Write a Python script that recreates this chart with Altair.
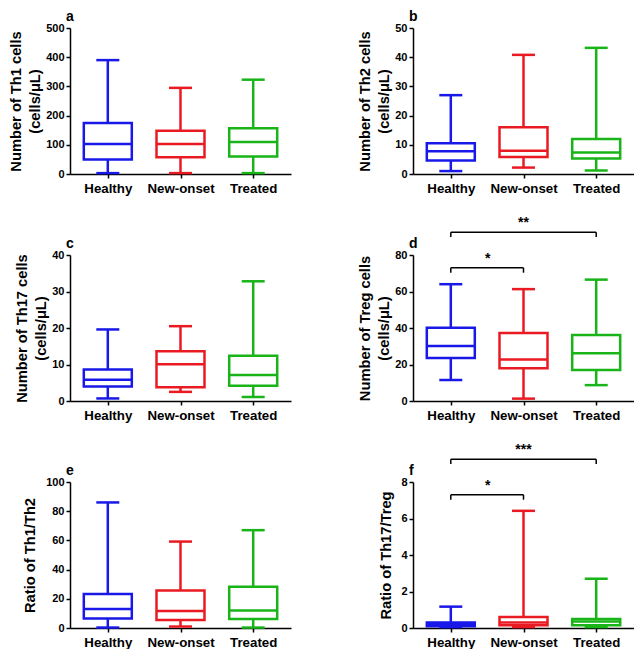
import altair as alt
import pandas as pd

groups = ["Healthy", "New-onset", "Treated"]
colors = ["#1818e8", "#ea1a22", "#18b418"]

# panel a: Th1 cells
a_min = [3, 3, 3]
a_q1 = [50, 57, 60]
a_med = [103, 103, 110]
a_q3 = [175, 148, 157]
a_max = [390, 295, 323]

# panel b: Th2 cells
b_min = [1.0, 2.2, 1.2]
b_q1 = [4.6, 5.8, 5.3]
b_med = [7.8, 8.0, 7.4]
b_q3 = [10.5, 16.0, 12.0]
b_max = [27.0, 40.8, 43.2]

# panel c: Th17 cells
c_min = [0.7, 2.5, 1.1]
c_q1 = [4.0, 3.8, 4.2]
c_med = [5.8, 10.1, 7.1]
c_q3 = [8.6, 13.6, 12.4]
c_max = [19.6, 20.5, 32.8]

# panel d: Treg cells
d_min = [11.5, 1.3, 8.7]
d_q1 = [23.5, 18.0, 17.0]
d_med = [30.2, 22.7, 26.2]
d_q3 = [40.2, 37.3, 36.2]
d_max = [64.0, 61.3, 66.5]

# panel e: Th1/Th2 ratio
e_min = [0.3, 1.0, 0.3]
e_q1 = [6.5, 5.5, 6.2]
e_med = [13.0, 11.7, 12.0]
e_q3 = [23.3, 25.7, 28.3]
e_max = [86.0, 59.2, 67.0]

# panel f: Th17/Treg ratio
f_min = [0.05, 0.05, 0.05]
f_q1 = [0.10, 0.15, 0.15]
f_med = [0.20, 0.30, 0.35]
f_q3 = [0.30, 0.60, 0.50]
f_max = [1.17, 6.42, 2.70]

# significance brackets: (from, to, level, tip, label)
d_brackets = [("Healthy", "New-onset", 73.0, 70.3, "*"), ("Healthy", "Treated", 92.5, 89.8, "**")]
f_brackets = [("Healthy", "New-onset", 7.3, 7.03, "*"), ("Healthy", "Treated", 9.25, 8.98, "***")]

FONT = "Liberation Sans"
W, H = 221, 146
LW = 2.5


def panel(letter, ytitle, ymax, step, mins, q1s, meds, q3s, maxs, brackets=None, tpad=3):
    df = pd.DataFrame({"group": groups, "min": mins, "q1": q1s, "med": meds, "q3": q3s, "max": maxs})
    yscale = alt.Scale(domain=[0, ymax], nice=False, zero=True)
    yaxis = alt.Axis(values=list(range(0, ymax + 1, step)), titlePadding=tpad)
    xscale = alt.Scale(type="point", padding=0.52)
    xaxis = alt.Axis(labelAngle=0)
    cscale = alt.Scale(domain=groups, range=colors)

    def X(f):
        return alt.X(f"{f}:N", sort=groups, scale=xscale, axis=xaxis, title=None)

    def Y(f):
        return alt.Y(f"{f}:Q", scale=yscale, axis=yaxis, title=ytitle)

    col = alt.Color("group:N", scale=cscale, legend=None)
    base = alt.Chart(df)
    w_lo = base.mark_rule(strokeWidth=LW).encode(x=X("group"), y=Y("min"), y2="q1:Q", color=col)
    w_hi = base.mark_rule(strokeWidth=LW).encode(x=X("group"), y=Y("q3"), y2="max:Q", color=col)
    cap_lo = base.mark_tick(size=23, thickness=LW, opacity=1).encode(x=X("group"), y=Y("min"), color=col)
    cap_hi = base.mark_tick(size=23, thickness=LW, opacity=1).encode(x=X("group"), y=Y("max"), color=col)
    box = base.mark_bar(size=48, fill="white", strokeWidth=LW, opacity=1).encode(
        x=X("group"), y=Y("q1"), y2="q3:Q",
        stroke=alt.Stroke("group:N", scale=cscale, legend=None))
    med = base.mark_tick(size=48, thickness=LW, opacity=1).encode(x=X("group"), y=Y("med"), color=col)
    lab = alt.Chart(pd.DataFrame({"t": [letter]})).mark_text(
        align="left", baseline="alphabetic", font=FONT, fontSize=14, fontWeight="bold", color="black"
    ).encode(text="t:N", x=alt.value(-4), y=alt.value(-7))
    layers = [w_lo, w_hi, cap_lo, cap_hi, box, med, lab]

    if brackets:
        hb = pd.DataFrame([{"g1": b[0], "g2": b[1], "lev": b[2]} for b in brackets])
        tips = pd.DataFrame([{"g": g, "lev": b[2], "tip": b[3]} for b in brackets for g in (b[0], b[1])])
        layers.append(alt.Chart(hb).mark_rule(color="black", strokeWidth=1.5).encode(
            x=X("g1"), x2="g2:N", y=Y("lev")))
        layers.append(alt.Chart(tips).mark_rule(color="black", strokeWidth=1.5).encode(
            x=X("g"), y=Y("lev"), y2="tip:Q"))
        small = pd.DataFrame([{"g": brackets[0][0], "lev": brackets[0][2], "lab": brackets[0][4]}])
        big = pd.DataFrame([{"g": "New-onset", "lev": brackets[1][2], "lab": brackets[1][4]}])
        layers.append(alt.Chart(small).mark_text(dx=37, dy=-2, baseline="bottom", font=FONT,
                                                 fontSize=14, fontWeight="bold", color="black").encode(
            x=X("g"), y=Y("lev"), text="lab:N"))
        layers.append(alt.Chart(big).mark_text(dy=-2, baseline="bottom", font=FONT,
                                               fontSize=14, fontWeight="bold", color="black").encode(
            x=X("g"), y=Y("lev"), text="lab:N"))

    return alt.layer(*layers).properties(width=W, height=H)


pa = panel("a", ["Number of Th1 cells", "(cells/μL)"], 500, 100, a_min, a_q1, a_med, a_q3, a_max)
pb = panel("b", ["Number of Th2 cells", "(cells/μL)"], 50, 10, b_min, b_q1, b_med, b_q3, b_max)
pc = panel("c", ["Number of Th17 cells", "(cells/μL)"], 40, 10, c_min, c_q1, c_med, c_q3, c_max)
pd_ = panel("d", ["Number of Treg cells", "(cells/μL)"], 80, 20, d_min, d_q1, d_med, d_q3, d_max, d_brackets)
pe = panel("e", "Ratio of Th1/Th2", 100, 20, e_min, e_q1, e_med, e_q3, e_max, tpad=8)
pf = panel("f", "Ratio of Th17/Treg", 8, 2, f_min, f_q1, f_med, f_q3, f_max, f_brackets, tpad=7)

chart = alt.concat(pa, pb, pc, pd_, pe, pf, columns=2,
                   spacing=alt.RowColnumber(column=122, row=81), bounds="flush").properties(
    padding={"left": 0, "top": 2, "right": 0, "bottom": 0}
).configure_view(stroke=None).configure_axis(
    grid=False, domainColor="black", domainWidth=1.5, tickColor="black", tickWidth=1.5, tickSize=4,
    labelFont=FONT, labelFontWeight="bold", labelColor="black",
    titleFont=FONT, titleFontWeight="bold", titleColor="black"
).configure_axisY(labelFontSize=11, titleFontSize=14.7, titleLineHeight=19
).configure_axisX(labelFontSize=13.3, labelPadding=3)

chart.save("out.html", embed_options={"renderer": "svg", "actions": False})
